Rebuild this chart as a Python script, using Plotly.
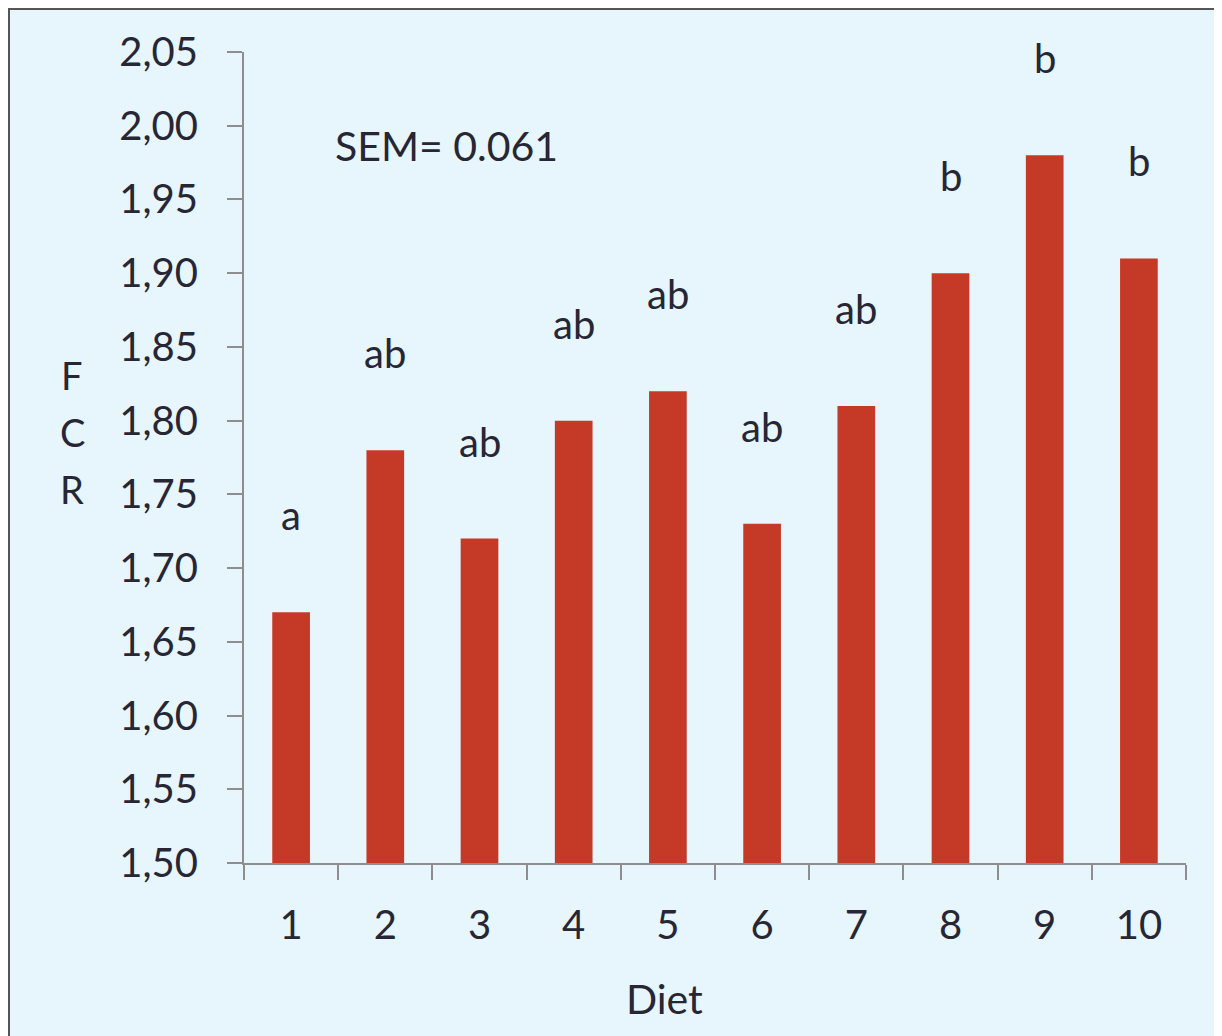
import plotly.graph_objects as go

diets = ["1", "2", "3", "4", "5", "6", "7", "8", "9", "10"]
fcr = [1.67, 1.78, 1.72, 1.80, 1.82, 1.73, 1.81, 1.90, 1.98, 1.91]
letters = ["a", "ab", "ab", "ab", "ab", "ab", "ab", "b", "b", "b"]
y_ticks = [1.50, 1.55, 1.60, 1.65, 1.70, 1.75, 1.80, 1.85, 1.90, 1.95, 2.00, 2.05]
y_title = ["F", "C", "R"]

FONT = "Lato"
TXT = "#262635"
AX = "#8e8e8e"

fig = go.Figure()
fig.add_trace(go.Bar(x=diets, y=fcr, marker=dict(color="#C53A26", line=dict(width=0)),
                     width=0.4, showlegend=False))

OFF = 8  # page body offset
PW, PH = 1222, 1036
W, H = PW - OFF, PH - OFF
L, T = 244 - OFF, 52 - OFF
R = PW - 1186
B = PH - 863
pw, ph = W - L - R, H - T - B


def px(xp):
    return (xp - OFF - L) / pw


def py(yp):
    return 1 - (yp - OFF - T) / ph


annotations = []
for i, (v, t) in enumerate(zip(fcr, letters)):
    annotations.append(dict(x=i, y=v, xref="x", yref="y", text=t, showarrow=False,
                            yanchor="middle", yshift=97,
                            font=dict(family=FONT, size=40, color=TXT)))
annotations.append(dict(x=px(446), y=py(145), xref="paper", yref="paper",
                        text="SEM= 0.061", showarrow=False, xanchor="center", yanchor="middle",
                        font=dict(family=FONT, size=41, color=TXT)))
annotations.append(dict(x=px(664), y=py(998), xref="paper", yref="paper",
                        text="Diet", showarrow=False, xanchor="center", yanchor="middle",
                        font=dict(family=FONT, size=41, color=TXT)))
for k, ch in enumerate(y_title):
    annotations.append(dict(x=px(72), y=py(375 + 57 * k), xref="paper", yref="paper",
                            text=ch, showarrow=False, xanchor="center", yanchor="middle",
                            font=dict(family=FONT, size=38, color=TXT)))

fig.update_layout(
    width=W, height=H,
    margin=dict(l=L, r=R, t=T, b=B, autoexpand=False),
    paper_bgcolor="#E7F5FC", plot_bgcolor="#E7F5FC",
    separators=", ",
    annotations=annotations,
    shapes=[dict(type="rect", xref="paper", yref="paper",
                 x0=px(9), x1=px(PW + 30),
                 y0=py(PH + 30), y1=py(OFF + 1),
                 line=dict(color="#555555", width=2), fillcolor="rgba(0,0,0,0)", layer="below")],
    font=dict(family=FONT, color=TXT),
)
fig.update_xaxes(type="category", tickson="boundaries", showline=True, linecolor=AX, linewidth=2,
                 ticks="outside", ticklen=15, tickwidth=2, tickcolor=AX, showgrid=False,
                 range=[-0.5, 9.5], ticklabelstandoff=26,
                 tickfont=dict(family=FONT, size=40, color=TXT))
fig.update_yaxes(range=[1.50, 2.05], tickvals=y_ticks, tickformat=".2f", showline=True,
                 linecolor=AX, linewidth=2, ticks="outside", ticklen=15, tickwidth=2, tickcolor=AX,
                 showgrid=False, zeroline=False, ticklabelstandoff=21,
                 tickfont=dict(family=FONT, size=40, color=TXT))

fig.write_html("out.html")
